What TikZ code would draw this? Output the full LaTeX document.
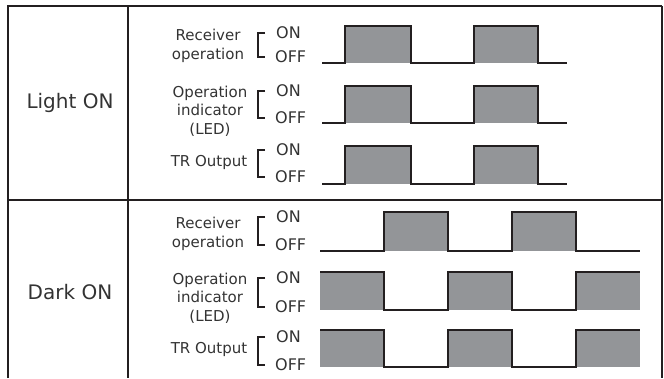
\documentclass[tikz,border=0pt]{standalone}
\usepackage{fontspec}
\setmainfont{DejaVu Sans}
\usepackage{tikz}
\usetikzlibrary{positioning}
\definecolor{ink}{HTML}{231F20}
\definecolor{pulsegray}{HTML}{939598}
\definecolor{txt}{HTML}{333333}

\begin{document}
\begin{tikzpicture}[
        x = 1pt,
        y = -1pt,
        frame/.style = {
            draw = ink,
            line width = 1.4pt
        },
        wave/.style = {
            draw = ink,
            line width = 2pt,
            line join = miter
        },
        pulse/.style = {fill = pulsegray},
        mode/.style = {
            font = \fontsize{20}{24}\selectfont,
            text = txt
        },
        signal/.style = {
            font = \fontsize{15}{18.5}\selectfont,
            text = txt,
            align = center
        },
        level/.style = {
            font = \fontsize{16}{18}\selectfont,
            text = txt,
            inner sep = 0pt,
            anchor = west
        },
        bracket/.style = {
            draw = ink,
            line width = 1.2pt
        }
    ]
    \useasboundingbox (0,0) rectangle (664,378);

    % table frame
    \draw[frame] (8,378) -- (8,6) -- (662,6);
    \draw[frame, line width = 2pt] (662,6) -- (662,378);
    \draw[frame] (128,6) -- (128,378);
    \draw[frame] (8,200) -- (662,200);

    \node[mode] (light) at (70,103) {Light ON};
    \node[mode] (dark) at (70,292) {Dark ON};

    % Light ON rows
    \node[signal] (rxl) at (208,46) {Receiver\\operation};
    \node[level] (rxlon) at (276,33) {ON};
    \node[level] (rxloff) at (275,57) {OFF};
    \draw[bracket] ([xshift=-11pt]rxlon.west) -- ++(-7,0) |- ([xshift=-10pt]rxloff.west);
    \fill[pulse] (345,26) rectangle (411,63);
    \fill[pulse] (474,26) rectangle (538,63);
    \draw[wave] (322,63) -- (345,63) -- (345,26) -- (411,26) -- (411,63) -- (474,63)
        -- (474,26) -- (538,26) -- (538,63) -- (567,63);

    \node[signal] (ledl) at (210,111) {Operation\\indicator\\(LED)};
    \node[level] (ledlon) at (276,91) {ON};
    \node[level] (ledloff) at (275,118) {OFF};
    \draw[bracket] ([xshift=-11pt]ledlon.west) -- ++(-7,0) |- ([xshift=-10pt]ledloff.west);
    \fill[pulse] (345,86) rectangle (411,123);
    \fill[pulse] (474,86) rectangle (538,123);
    \draw[wave] (322,123) -- (345,123) -- (345,86) -- (411,86) -- (411,123) -- (474,123)
        -- (474,86) -- (538,86) -- (538,123) -- (567,123);

    \node[signal] (trl) at (209,162) {TR Output};
    \node[level] (trlon) at (276,150) {ON};
    \node[level] (trloff) at (275,177) {OFF};
    \draw[bracket] ([xshift=-11pt]trlon.west) -- ++(-7,0) |- ([xshift=-10pt]trloff.west);
    \fill[pulse] (345,146) rectangle (411,184);
    \fill[pulse] (474,146) rectangle (538,184);
    \draw[wave] (322,184) -- (345,184) -- (345,146) -- (411,146) -- (411,184) -- (474,184)
        -- (474,146) -- (538,146) -- (538,184) -- (567,184);

    % Dark ON rows
    \node[signal] (rxd) at (208,234) {Receiver\\operation};
    \node[level] (rxdon) at (276,217) {ON};
    \node[level] (rxdoff) at (275,245) {OFF};
    \draw[bracket] ([xshift=-11pt]rxdon.west) -- ++(-7,0) |- ([xshift=-10pt]rxdoff.west);
    \fill[pulse] (384,212) rectangle (448,251);
    \fill[pulse] (512,212) rectangle (576,251);
    \draw[wave] (320,251) -- (384,251) -- (384,212) -- (448,212) -- (448,251) -- (512,251)
        -- (512,212) -- (576,212) -- (576,251) -- (640,251);

    \node[signal] (ledd) at (210,298) {Operation\\indicator\\(LED)};
    \node[level] (leddon) at (276,278) {ON};
    \node[level] (leddoff) at (275,307) {OFF};
    \draw[bracket] ([xshift=-11pt]leddon.west) -- ++(-7,0) |- ([xshift=-10pt]leddoff.west);
    \fill[pulse] (320,272) rectangle (384,310);
    \fill[pulse] (448,272) rectangle (512,310);
    \fill[pulse] (576,272) rectangle (640,310);
    \draw[wave] (320,272) -- (384,272) -- (384,310) -- (448,310) -- (448,272) -- (512,272)
        -- (512,310) -- (576,310) -- (576,272) -- (640,272);

    \node[signal] (trd) at (209,349) {TR Output};
    \node[level] (trdon) at (276,337) {ON};
    \node[level] (trdoff) at (275,365) {OFF};
    \draw[bracket] ([xshift=-11pt]trdon.west) -- ++(-7,0) |- ([xshift=-10pt]trdoff.west);
    \fill[pulse] (320,330) rectangle (384,367);
    \fill[pulse] (448,330) rectangle (512,367);
    \fill[pulse] (576,330) rectangle (640,367);
    \draw[wave] (320,330) -- (384,330) -- (384,367) -- (448,367) -- (448,330) -- (512,330)
        -- (512,367) -- (576,367) -- (576,330) -- (640,330);
\end{tikzpicture}
\end{document}
